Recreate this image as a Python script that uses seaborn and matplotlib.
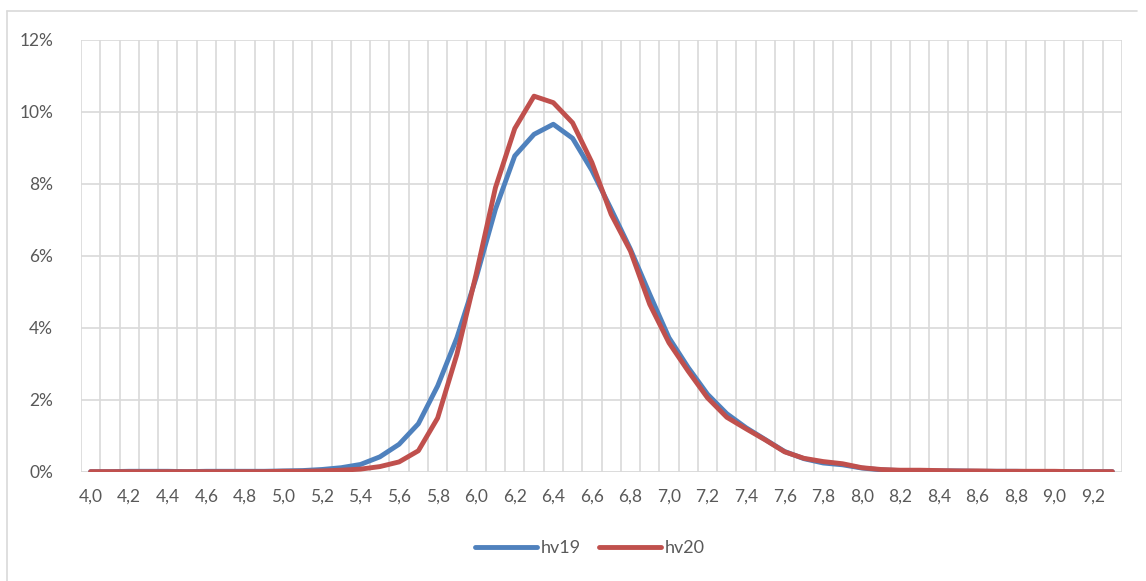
import numpy as np
import pandas as pd
import matplotlib
matplotlib.use('Agg')
import matplotlib.pyplot as plt
import seaborn as sns
from matplotlib.lines import Line2D
from matplotlib.ticker import FuncFormatter, MultipleLocator

# categories (class values)
cats = [4.0, 4.1, 4.2, 4.3, 4.4, 4.5, 4.6, 4.7, 4.8, 4.9,
        5.0, 5.1, 5.2, 5.3, 5.4, 5.5, 5.6, 5.7, 5.8, 5.9,
        6.0, 6.1, 6.2, 6.3, 6.4, 6.5, 6.6, 6.7, 6.8, 6.9,
        7.0, 7.1, 7.2, 7.3, 7.4, 7.5, 7.6, 7.7, 7.8, 7.9,
        8.0, 8.1, 8.2, 8.3, 8.4, 8.5, 8.6, 8.7, 8.8, 8.9,
        9.0, 9.1, 9.2, 9.3]

# share in percent
hv19 = [0.01, 0.01, 0.02, 0.02, 0.02, 0.01, 0.02, 0.02, 0.02, 0.02,
        0.03, 0.04, 0.07, 0.12, 0.21, 0.42, 0.77, 1.34, 2.39, 3.73,
        5.40, 7.30, 8.78, 9.38, 9.66, 9.27, 8.38, 7.30, 6.19, 4.94,
        3.73, 2.90, 2.16, 1.62, 1.23, 0.90, 0.57, 0.37, 0.25, 0.20,
        0.11, 0.06, 0.04, 0.04, 0.03, 0.03, 0.02, 0.02, 0.02, 0.01,
        0.01, 0.01, 0.01, 0.01]
hv20 = [0.01, 0.01, 0.01, 0.01, 0.01, 0.01, 0.01, 0.01, 0.01, 0.01,
        0.02, 0.02, 0.03, 0.05, 0.08, 0.15, 0.28, 0.59, 1.50, 3.27,
        5.50, 7.90, 9.54, 10.44, 10.26, 9.70, 8.60, 7.16, 6.14, 4.66,
        3.59, 2.80, 2.06, 1.52, 1.20, 0.89, 0.56, 0.38, 0.29, 0.23,
        0.12, 0.07, 0.05, 0.05, 0.04, 0.03, 0.03, 0.02, 0.02, 0.02,
        0.02, 0.01, 0.01, 0.01]

df = pd.DataFrame({'x': cats + cats,
                   'v': hv19 + hv20,
                   'serie': ['hv19'] * len(cats) + ['hv20'] * len(cats)})

sns.set_style('white')
plt.rcParams['font.family'] = ['Lato', 'DejaVu Sans']
txt = '#595959'
grid = '#D9D9D9'

fig = plt.figure(figsize=(11.46, 5.81), dpi=100)
ax = fig.add_axes([81 / 1146, 1 - 472 / 581, (1122 - 81) / 1146, (472 - 40) / 581])

sns.lineplot(data=df, x='x', y='v', hue='serie', palette=['#4F81BD', '#C0504D'],
             linewidth=3.5, ax=ax, legend=False, zorder=3)

ax.set_xlim(3.95, 9.35)
ax.set_ylim(0, 12)
ax.set_xticks([c for c in cats if round(c * 10) % 2 == 0])
ax.xaxis.set_major_formatter(FuncFormatter(lambda v, p: f'{v:.1f}'.replace('.', ',')))
ax.yaxis.set_major_locator(MultipleLocator(2))
ax.yaxis.set_major_formatter(FuncFormatter(lambda v, p: f'{v:.0f}%'))

# vertical grid lines between categories
for b in np.arange(len(cats) + 1):
    ax.axvline(3.95 + 0.1 * b, color=grid, lw=1.2, zorder=1)
for yv in range(2, 13, 2):
    ax.axhline(yv, color=grid, lw=1.2, zorder=1)

for s in ax.spines.values():
    s.set_visible(False)
ax.axhline(0, color=grid, lw=1.3, zorder=2)
ax.tick_params(axis='both', length=0, colors=txt, labelsize=12.5)
ax.tick_params(axis='x', pad=12)
ax.tick_params(axis='y', pad=20)
ax.set_xlabel('')
ax.set_ylabel('')

handles = [Line2D([], [], color='#4F81BD', lw=3.5, solid_capstyle='round'),
           Line2D([], [], color='#C0504D', lw=3.5, solid_capstyle='round')]
leg = fig.legend(handles, ['hv19', 'hv20'], loc='center', bbox_to_anchor=(0.515, 1 - 548 / 581),
                 ncol=2, frameon=False, fontsize=13, handlelength=3.4,
                 handletextpad=0.25, columnspacing=1.0)
for t in leg.get_texts():
    t.set_color(txt)

# chart border
fig.add_artist(Line2D([7 / 1146, 1137 / 1146], [1 - 11 / 581, 1 - 11 / 581],
                      transform=fig.transFigure, color=grid, lw=1.2))
fig.add_artist(Line2D([7 / 1146, 7 / 1146], [1 - 11 / 581, 0],
                      transform=fig.transFigure, color=grid, lw=1.2))

fig.savefig('out.png', dpi=100)
